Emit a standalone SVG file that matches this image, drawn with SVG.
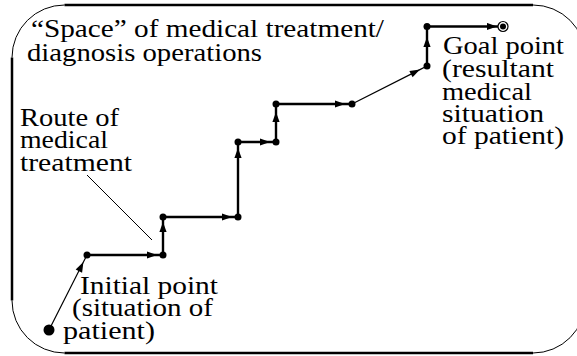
<svg xmlns="http://www.w3.org/2000/svg" width="577" height="356" viewBox="0 0 577 356">
<style>
  .frame { fill: none; stroke: #000; stroke-width: 2.5; }
  .arc { fill: none; stroke: #000; stroke-width: 1; }
  .thick { fill: none; stroke: #000; stroke-width: 2.4; marker-mid: url(#arrow); }
  .thin { fill: none; stroke: #000; stroke-width: 1.2; marker-mid: url(#arrow); }
  .pointer { fill: none; stroke: #000; stroke-width: 1; }
  .dot { fill: #000; }
  .lbl { font-family: 'Liberation Serif', 'DejaVu Serif', serif; font-size: 25px; fill: #000; }
</style>
<defs>
  <marker id="arrow" markerUnits="userSpaceOnUse" markerWidth="12" markerHeight="8" viewBox="-11 -4 12 8" refX="0" refY="0" orient="auto">
    <path d="M0,0 L-10,-3.6 L-10,3.6 Z" fill="#000"/>
  </marker>
</defs>

<g id="frame">
  <path class="frame" d="M64.5,5 H533 M12,57.5 V300.5 M64.5,353 H533 M585.5,57.5 V300.5"/>
  <path class="arc" d="M12,57.5 A52.5,52.5 0 0 1 64.5,5 M533,5 A52.5,52.5 0 0 1 585.5,57.5 M585.5,300.5 A52.5,52.5 0 0 1 533,353 M64.5,353 A52.5,52.5 0 0 1 12,300.5"/>
</g>

<g id="connectors">
  <path class="thin" d="M49,330 L83.4,262.1 L87,255"/>
  <path class="thick" d="M87,255 L157,255 L163,255"/>
  <path class="thick" d="M163,255 L163,222 L163,217"/>
  <path class="thick" d="M163,217 L232,217 L238,217"/>
  <path class="thick" d="M238,217 L238,148 L238,142"/>
  <path class="thick" d="M238,142 L270,142 L276,142"/>
  <path class="thick" d="M276,142 L276,112 L276,104"/>
  <path class="thick" d="M276,104 L345,104 L352,104"/>
  <path class="thin" d="M352,104 L419.9,69.6 L427,66"/>
  <path class="thick" d="M427,66 L427,37 L427,26.5"/>
  <path class="thick" d="M427,26.5 L497,26.5 L503,26.5"/>
  <line class="pointer" x1="87" y1="175" x2="152" y2="240"/>
</g>

<g id="start"><circle class="dot" cx="49" cy="330" r="5.5"/></g>
<g id="p1"><circle class="dot" cx="87" cy="255" r="3.5"/></g>
<g id="p2"><circle class="dot" cx="163" cy="255" r="3.5"/></g>
<g id="p3"><circle class="dot" cx="163" cy="217" r="3.5"/></g>
<g id="p4"><circle class="dot" cx="238" cy="217" r="3.5"/></g>
<g id="p5"><circle class="dot" cx="238" cy="142" r="3.5"/></g>
<g id="p6"><circle class="dot" cx="276" cy="142" r="3.5"/></g>
<g id="p7"><circle class="dot" cx="276" cy="104" r="3.5"/></g>
<g id="p8"><circle class="dot" cx="352" cy="104" r="3.5"/></g>
<g id="p9"><circle class="dot" cx="427" cy="66" r="3.5"/></g>
<g id="p10"><circle class="dot" cx="427" cy="26.5" r="3.5"/></g>
<g id="goal">
  <circle cx="503" cy="26.5" r="5" fill="#fff" stroke="#000" stroke-width="1.2"/>
  <circle class="dot" cx="503" cy="26.5" r="3"/>
</g>

<g id="space-label" class="lbl">
  <text x="31" y="37" textLength="353" lengthAdjust="spacingAndGlyphs">“Space” of medical treatment/</text>
  <text x="27" y="61" textLength="235" lengthAdjust="spacingAndGlyphs">diagnosis operations</text>
</g>
<g id="route-label" class="lbl">
  <text x="20" y="126" textLength="99" lengthAdjust="spacingAndGlyphs">Route of</text>
  <text x="20" y="148" textLength="88" lengthAdjust="spacingAndGlyphs">medical</text>
  <text x="20" y="171" textLength="112" lengthAdjust="spacingAndGlyphs">treatment</text>
</g>
<g id="initial-label" class="lbl">
  <text x="80" y="294" textLength="138" lengthAdjust="spacingAndGlyphs">Initial point</text>
  <text x="72" y="316" textLength="141" lengthAdjust="spacingAndGlyphs">(situation of</text>
  <text x="63" y="339" textLength="92" lengthAdjust="spacingAndGlyphs">patient)</text>
</g>
<g id="goal-label" class="lbl">
  <text x="443" y="54" textLength="121" lengthAdjust="spacingAndGlyphs">Goal point</text>
  <text x="442" y="77" textLength="112" lengthAdjust="spacingAndGlyphs">(resultant</text>
  <text x="442" y="100" textLength="90" lengthAdjust="spacingAndGlyphs">medical</text>
  <text x="442" y="122" textLength="102" lengthAdjust="spacingAndGlyphs">situation</text>
  <text x="442" y="144" textLength="122" lengthAdjust="spacingAndGlyphs">of patient)</text>
</g>
</svg>
